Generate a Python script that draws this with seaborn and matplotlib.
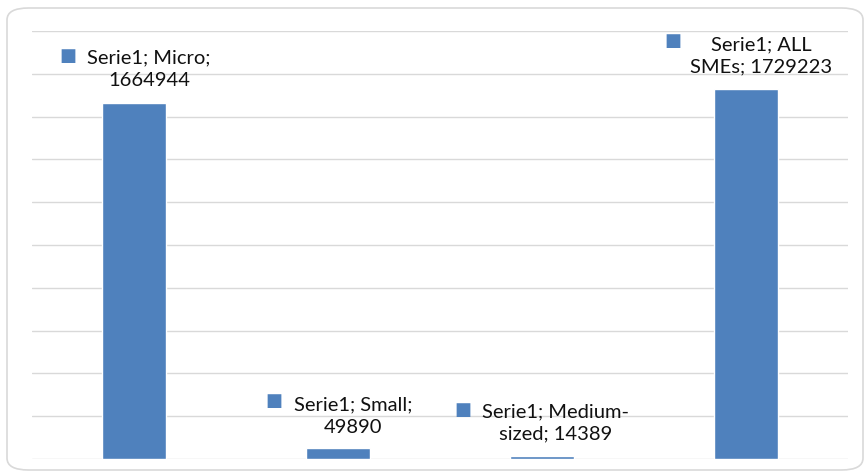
import matplotlib
matplotlib.use("Agg")
import matplotlib.pyplot as plt
from matplotlib.patches import FancyBboxPatch
import seaborn as sns
import pandas as pd

categories = ["Micro", "Small", "Medium-sized", "ALL SMEs"]
values = [1664944, 49890, 14389, 1729223]
labels = ["Serie1; Micro;\n1664944", "Serie1; Small;\n49890",
          "Serie1; Medium-\nsized; 14389", "Serie1; ALL\nSMEs; 1729223"]

df = pd.DataFrame({"cat": categories, "val": values})

sns.set_style("white")
plt.rcParams["font.family"] = ["Lato", "DejaVu Sans"]

W, H = 866, 474
fig = plt.figure(figsize=(W / 100, H / 100), dpi=100)
ax = fig.add_axes([32 / W, 15 / H, 816 / W, 428 / H])

sns.barplot(data=df, x="cat", y="val", order=categories, color="#4f81bd",
            width=0.314, saturation=1, ax=ax, zorder=3)
ax.set_ylim(0, 2000000)
ax.set_xlim(-0.5, 3.5)
for g in range(0, 2000001, 200000):
    ax.axhline(g, color="#d9d9d9", lw=1, zorder=1)
ax.set_xticks([])
ax.set_yticks([])
ax.set_xlabel("")
ax.set_ylabel("")
sns.despine(ax=ax, left=True, bottom=True, top=True, right=True)

# label offsets in pixels: (text dx, text dy, key dx, key dy)
offs = [(15, 34, -66, 47), (15, 32, -64, 47), (14, 33, -79, 46), (15, 33, -73, 48)]
px = 72 / 100
for i, (lab, v) in enumerate(zip(labels, values)):
    tdx, tdy, kdx, kdy = offs[i]
    ax.annotate(lab, (i, v), xytext=(tdx * px, tdy * px), textcoords="offset points",
                ha="center", va="center", fontsize=14.5, color="#111111",
                linespacing=1.4, zorder=5)
    ax.annotate("\u25a0", (i, v), xytext=(kdx * px, kdy * px), textcoords="offset points",
                ha="center", va="center", fontsize=13, color="#4f81bd",
                family="DejaVu Sans", zorder=5)

frame = FancyBboxPatch((7 / W, 4 / H), 856 / W, 462 / H,
                       boxstyle="round,pad=0,rounding_size=0.025",
                       transform=fig.transFigure, fill=False,
                       edgecolor="#d9d9d9", lw=1.2)
fig.patches.append(frame)

fig.savefig("out.png", dpi=100)
